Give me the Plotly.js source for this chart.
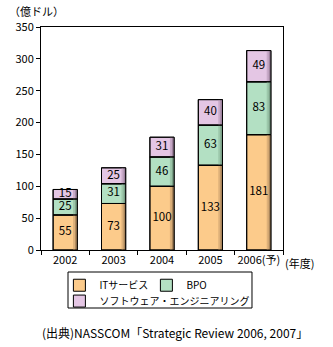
<!DOCTYPE html>
<html>
<head>
<meta charset="utf-8">
<script src="https://cdn.plot.ly/plotly-3.0.1.min.js"></script>
<style>html,body{margin:0;padding:0;background:#fff;}#chart{width:333px;height:347px;}</style>
</head>
<body>
<div id="chart"></div>
<script>
var categories = ["2002", "2003", "2004", "2005", "2006(予)"];
var itServices = [55, 73, 100, 133, 181];
var bpo = [25, 31, 46, 63, 83];
var software = [15, 25, 31, 40, 49];
var seriesNames = ["ITサービス", "BPO", "ソフトウェア・エンジニアリング"];
var colors = ["#FCCB8B", "#B3E0C3", "#E4C6E4"];
var midShades = ["#DDB079", "#9CC7AA", "#C8AAC8"];
var darkShades = ["#A8845A", "#7A9F86", "#9E839E"];

var FONT = "'Noto Sans CJK JP', 'Noto Sans', sans-serif";

var series = [itServices, bpo, software];
// stacked bases derived from the series
var bases = [];
var running = categories.map(function () { return 0; });
series.forEach(function (vals) {
  bases.push(running.slice());
  running = running.map(function (r, i) { return r + vals[i]; });
});

var data = [];
var legendNames = ["legend", "legend", "legend2"];
// filled bars (legend entries)
series.forEach(function (vals, k) {
  data.push({
    type: "bar", name: seriesNames[k], x: categories, y: vals, base: bases[k],
    width: 0.5, legend: legendNames[k],
    marker: {color: colors[k], line: {color: "#000", width: 1}},
    textposition: "none", hoverinfo: "none"
  });
});
// right-edge shading strips
series.forEach(function (vals, k) {
  data.push({
    type: "bar", x: categories, y: vals, base: bases[k], showlegend: false,
    width: 0.045, offset: 0.163, marker: {color: midShades[k], line: {width: 0}},
    hoverinfo: "none"
  });
  data.push({
    type: "bar", x: categories, y: vals, base: bases[k], showlegend: false,
    width: 0.045, offset: 0.205, marker: {color: darkShades[k], line: {width: 0}},
    hoverinfo: "none"
  });
});
// outlines on top
series.forEach(function (vals, k) {
  data.push({
    type: "bar", x: categories, y: vals, base: bases[k], showlegend: false,
    width: 0.5, marker: {color: "rgba(0,0,0,0)", line: {color: "#000", width: 1}},
    hoverinfo: "none"
  });
});
// value labels
series.forEach(function (vals, k) {
  data.push({
    type: "scatter", mode: "text", x: categories,
    y: vals.map(function (v, i) { return bases[k][i] + v / 2; }),
    text: vals.map(String), textposition: "middle center", showlegend: false,
    textfont: {family: FONT, size: 11.5, color: "#000"}, hoverinfo: "none"
  });
});

var legendFont = {family: FONT, size: 10, color: "#000"};

var layout = {
  width: 333, height: 347,
  margin: {l: 41, r: 50, t: 27, b: 97},
  barmode: "overlay",
  paper_bgcolor: "#fff", plot_bgcolor: "#fff",
  font: {family: FONT, size: 11, color: "#000"},
  showlegend: true,
  legend: {
    orientation: "h", x: 0.076, xanchor: "left", y: -0.093, yanchor: "top",
    borderwidth: 0, bgcolor: "rgba(0,0,0,0)", font: legendFont,
    traceorder: "normal", entrywidth: 42, entrywidthmode: "pixels"
  },
  legend2: {
    orientation: "h", x: 0.076, xanchor: "left", y: -0.164, yanchor: "top",
    borderwidth: 0, bgcolor: "rgba(0,0,0,0)", font: legendFont
  },
  xaxis: {
    type: "category", showline: true, mirror: true, linecolor: "#000", linewidth: 1,
    ticks: "outside", tickson: "boundaries", ticklen: 4, tickcolor: "#000", tickangle: 0,
    tickfont: {family: FONT, size: 11}, showgrid: false, fixedrange: true
  },
  yaxis: {
    range: [0, 350], dtick: 50, showline: true, mirror: true, linecolor: "#000", linewidth: 1,
    ticks: "outside", ticklen: 4, tickcolor: "#000", showgrid: false, zeroline: false,
    tickfont: {family: FONT, size: 11}, fixedrange: true
  },
  shapes: [
    {type: "rect", xref: "paper", yref: "paper", x0: 0.1116, x1: 0.8719, y0: -0.0987, y1: -0.2601,
     line: {color: "#000", width: 1}, fillcolor: "rgba(0,0,0,0)", layer: "above"}
  ],
  annotations: [
    {text: "（億ドル）", xref: "paper", yref: "paper", x: -0.14, y: 1.0, xanchor: "left", yanchor: "bottom",
     yshift: 6, showarrow: false, font: {family: FONT, size: 11}},
    {text: "(年度)", xref: "paper", yref: "paper", x: 1.0, y: 0, xanchor: "left", yanchor: "top",
     xshift: 0, yshift: -3, showarrow: false, font: {family: FONT, size: 11}},
    {text: "(出典)NASSCOM「Strategic Review 2006, 2007」", xref: "paper", yref: "paper",
     x: 0.5, y: 0, xanchor: "center", yanchor: "middle", yshift: -82, xshift: 13,
     showarrow: false, font: {family: FONT, size: 12}}
  ]
};

Plotly.newPlot("chart", data, layout, {displayModeBar: false, staticPlot: true});
</script>
</body>
</html>
